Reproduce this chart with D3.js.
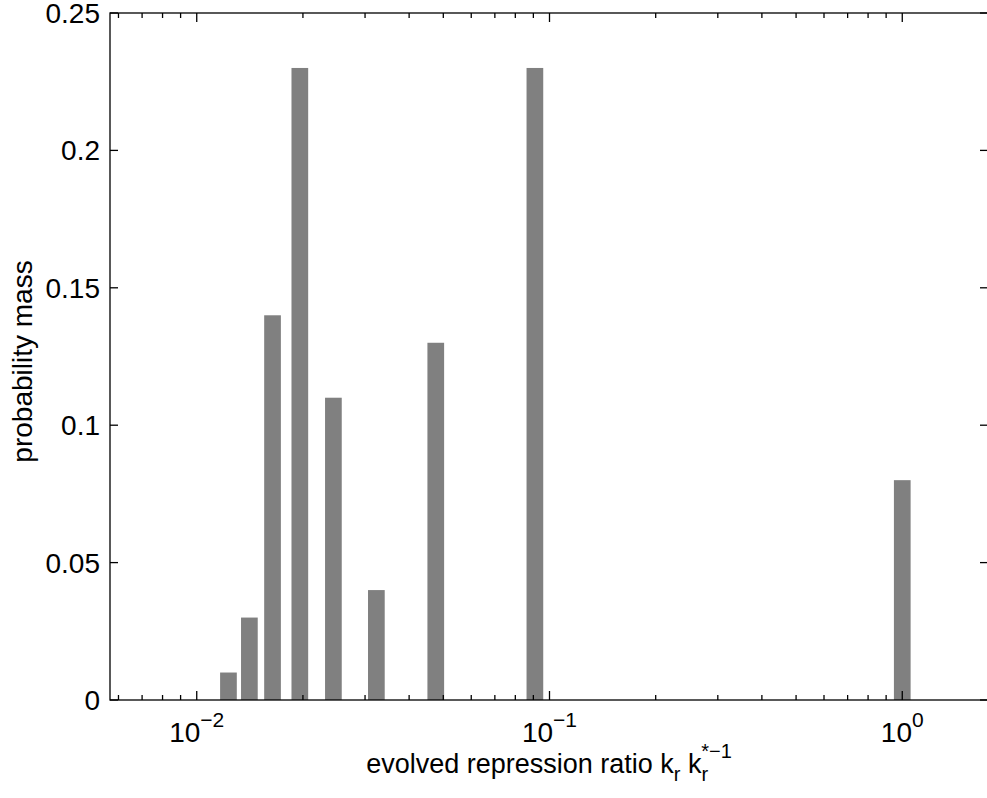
<!DOCTYPE html>
<html>
<head>
<meta charset="utf-8">
<script src="https://cdn.jsdelivr.net/npm/d3@7"></script>
<style>
body{margin:0;background:#fff;}
text{font-family:"Liberation Sans",Arial,Helvetica,sans-serif;fill:#000;}
</style>
</head>
<body>
<div id="chart"></div>
<script>
// evolved repression ratio (bar positions) and probability mass
var ratios = [0.0123, 0.0141, 0.0164, 0.0196, 0.0244, 0.0323, 0.0476, 0.0909, 1.0];
var mass   = [0.01, 0.03, 0.14, 0.23, 0.11, 0.04, 0.13, 0.23, 0.08];

var yTicks = [0, 0.05, 0.1, 0.15, 0.2, 0.25];
var yTickLabels = ["0", "0.05", "0.1", "0.15", "0.2", "0.25"];
var xMajor = [0.01, 0.1, 1];
var xMajorExp = ["\u22122", "\u22121", "0"];
var xMinor = [0.006, 0.007, 0.008, 0.009,
              0.02, 0.03, 0.04, 0.05, 0.06, 0.07, 0.08, 0.09,
              0.2, 0.3, 0.4, 0.5, 0.6, 0.7, 0.8, 0.9];

var W = 987, H = 798;
var pLeft = 110, pRight = 988, pTop = 13, pBottom = 700;
var barW = 16.7;
var fs = 28, fsSmall = 21;

var svg = d3.select("#chart").append("svg")
  .attr("width", W).attr("height", H);

var x = d3.scaleLog().domain([0.005677, 1.75]).range([pLeft, pRight]);
var y = d3.scaleLinear().domain([0, 0.25]).range([pBottom, pTop]);

// bars
svg.append("g").selectAll("rect")
  .data(ratios)
  .enter().append("rect")
  .attr("x", function(d){ return x(d) - barW/2; })
  .attr("width", barW)
  .attr("y", function(d,i){ return y(mass[i]); })
  .attr("height", function(d,i){ return y(0) - y(mass[i]); })
  .attr("fill", "#808080");

// axes box
var ax = svg.append("g").attr("stroke", "#000").attr("stroke-width", 1.3).attr("fill", "none");
ax.append("rect").attr("x", pLeft).attr("y", pTop)
  .attr("width", pRight - pLeft).attr("height", pBottom - pTop);

// x ticks (bottom + top, inward)
function xtick(v, len){
  ax.append("line").attr("x1", x(v)).attr("x2", x(v)).attr("y1", pBottom).attr("y2", pBottom - len);
  ax.append("line").attr("x1", x(v)).attr("x2", x(v)).attr("y1", pTop).attr("y2", pTop + len);
}
xMajor.forEach(function(v){ xtick(v, 9); });
xMinor.forEach(function(v){ xtick(v, 5); });

// y ticks (left + right)
yTicks.forEach(function(v){
  ax.append("line").attr("x1", pLeft).attr("x2", pLeft + 8).attr("y1", y(v)).attr("y2", y(v));
  ax.append("line").attr("x1", pRight).attr("x2", pRight - 8).attr("y1", y(v)).attr("y2", y(v));
});

// y tick labels
svg.append("g").selectAll("text")
  .data(yTicks)
  .enter().append("text")
  .attr("x", 100)
  .attr("y", function(d){ return y(d) + 10; })
  .attr("text-anchor", "end")
  .style("font-size", fs + "px")
  .text(function(d,i){ return yTickLabels[i]; });

// x tick labels 10^n
xMajor.forEach(function(v, i){
  var t = svg.append("text")
    .attr("x", x(v))
    .attr("y", 742)
    .attr("text-anchor", "middle")
    .style("font-size", fs + "px");
  t.append("tspan").text("10");
  t.append("tspan").attr("dy", -15).style("font-size", fsSmall + "px").text(xMajorExp[i]);
});

// y label
svg.append("text")
  .attr("transform", "translate(31.5," + ((pTop + pBottom) / 2 + 5) + ") rotate(-90)")
  .attr("text-anchor", "middle")
  .style("font-size", fs + "px")
  .text("probability mass");

// x label: evolved repression ratio k_r k_r^{*-1}
var xl = svg.append("text")
  .attr("x", (pLeft + pRight) / 2)
  .attr("y", 773)
  .attr("text-anchor", "middle")
  .style("font-size", "27px");
xl.append("tspan").text("evolved repression ratio k");
xl.append("tspan").attr("dy", 8).style("font-size", "20px").text("r");
xl.append("tspan").attr("dy", -8).text(" k");
xl.append("tspan").attr("dy", 8).style("font-size", "20px").text("r");
xl.append("tspan").attr("dx", -7).attr("dy", -23).style("font-size", "20px").text("*\u22121");
</script>
</body>
</html>
